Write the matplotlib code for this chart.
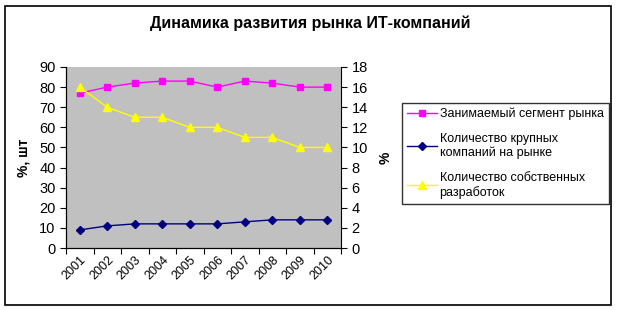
import matplotlib
matplotlib.use("Agg")
import matplotlib.pyplot as plt
from matplotlib.lines import Line2D
from matplotlib.patches import Rectangle

plt.rcParams['font.family'] = ['Liberation Sans', 'DejaVu Sans']

years = ["2001", "2002", "2003", "2004", "2005", "2006", "2007", "2008", "2009", "2010"]
segment = [77, 80, 82, 83, 83, 80, 83, 82, 80, 80]
companies = [9, 11, 12, 12, 12, 12, 13, 14, 14, 14]
developments = [16, 14, 13, 13, 12, 12, 11, 11, 10, 10]

title = "Динамика развития рынка ИТ-компаний"
labels = ["Занимаемый сегмент рынка", "Количество крупных\nкомпаний на рынке",
          "Количество собственных\nразработок"]

fig = plt.figure(figsize=(6.19, 3.10), dpi=100)
fig.patches.append(Rectangle((5/619, 5/310), 606/619, 299/310, transform=fig.transFigure,
                             fill=False, edgecolor='black', linewidth=1.2))

ax = fig.add_axes([66/619, 1-248/310, 275/619, 181/310])
ax.set_facecolor('#c0c0c0')
x = list(range(len(years)))
ax.plot(x, segment, color='#ff00ff', marker='s', markersize=5, linewidth=1)
ax.plot(x, companies, color='#000080', marker='D', markersize=4, linewidth=1)
ax.set_xlim(-0.5, len(years) - 0.5)
ax.set_ylim(0, 90)
ax.set_yticks(range(0, 91, 10))
ax.set_xticks([i - 0.5 for i in range(len(years) + 1)])
ax.set_xticklabels([])
ax.set_xticks(x, minor=True)
ax.set_xticklabels(years, minor=True, rotation=45, ha='right', va='top', rotation_mode='anchor', fontsize=9)
ax.tick_params(axis='x', which='minor', length=0, pad=4)
ax.tick_params(axis='x', which='major', length=4, direction='out')
ax.tick_params(axis='y', labelsize=10.5, length=4)
ax.set_ylabel("%, шт", fontsize=10, fontweight='bold', labelpad=6)
for s in ['top', 'right']:
    ax.spines[s].set_visible(False)

ax2 = ax.twinx()
ax2.plot(x, developments, color='#ffff00', marker='^', markersize=6, linewidth=1)
ax2.set_ylim(0, 18)
ax2.set_yticks(range(0, 19, 2))
ax2.tick_params(axis='y', labelsize=10.5, length=4)
ax2.set_ylabel("%", fontsize=10, fontweight='bold', labelpad=8)
ax2.spines['top'].set_visible(False)

fig.text(310/619, 1-23/310, title, fontsize=11.5, fontweight='bold', ha='center', va='center')

handles = [Line2D([], [], color='#ff00ff', marker='s', markersize=5, linewidth=1),
           Line2D([], [], color='#000080', marker='D', markersize=4, linewidth=1),
           Line2D([], [], color='#ffff00', marker='^', markersize=6, linewidth=1)]
leg = fig.legend(handles, labels, loc='upper left', bbox_to_anchor=(402/619, 1-103/310),
                 frameon=True, fancybox=False, edgecolor='black', fontsize=9,
                 handlelength=2.4, handletextpad=0.2, labelspacing=1.0, borderpad=0.4,
                 borderaxespad=0)
leg.get_frame().set_linewidth(1)

fig.savefig("out.png", dpi=100)
